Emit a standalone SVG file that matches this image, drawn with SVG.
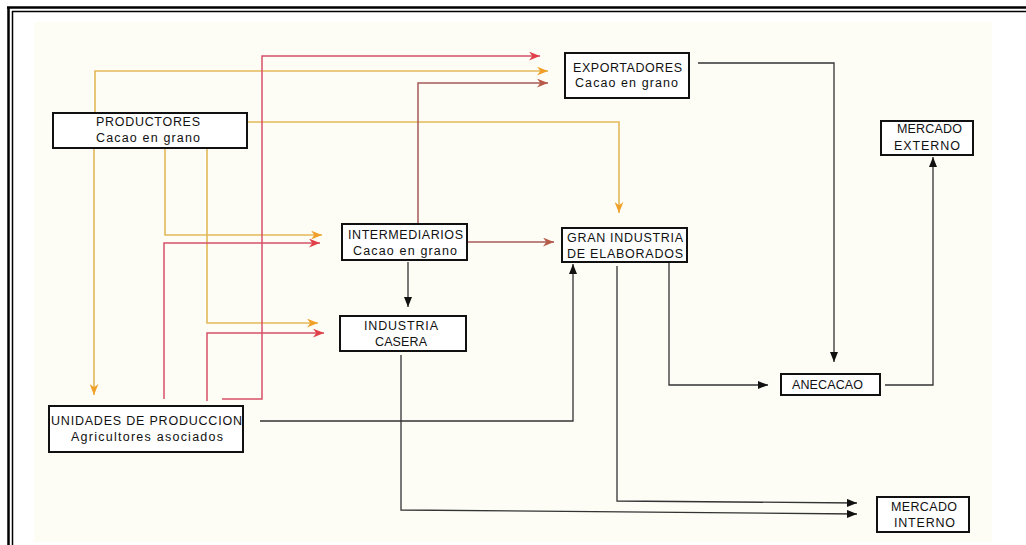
<svg xmlns="http://www.w3.org/2000/svg" width="1026" height="545" viewBox="0 0 1026 545">
<style>
.box{fill:#ffffff;stroke:#111;stroke-width:2}
.t{font-family:"Liberation Sans",Arial,sans-serif;font-size:12.5px;fill:#111}
.or{fill:none;stroke:#e3b85a;stroke-width:1.6}
.rd{fill:none;stroke:#d6506a;stroke-width:1.5}
.br{fill:none;stroke:#a65a5a;stroke-width:1.5}
.bk{fill:none;stroke:#333;stroke-width:1.3}
</style>
<defs>
<marker id="aO" viewBox="0 0 10 8" refX="10" refY="4" markerWidth="11" markerHeight="9" orient="auto" markerUnits="userSpaceOnUse"><path d="M0,0 L10,4 L0,8 L3,4 z" fill="#f0a028"/></marker>
<marker id="aR" viewBox="0 0 10 8" refX="10" refY="4" markerWidth="11" markerHeight="9" orient="auto" markerUnits="userSpaceOnUse"><path d="M0,0 L10,4 L0,8 L3,4 z" fill="#e04048"/></marker>
<marker id="aB" viewBox="0 0 10 8" refX="10" refY="4" markerWidth="11" markerHeight="9" orient="auto" markerUnits="userSpaceOnUse"><path d="M0,0 L10,4 L0,8 L3,4 z" fill="#b85a48"/></marker>
<marker id="aK" viewBox="0 0 10 8" refX="10" refY="4" markerWidth="10" markerHeight="8" orient="auto" markerUnits="userSpaceOnUse"><path d="M0,0 L10,4 L0,8 z" fill="#111"/></marker>
</defs>
<rect width="1026" height="545" fill="#ffffff"/>
<rect x="34" y="22" width="958" height="520" fill="#fdfdf6"/>
<g id="frame" stroke="#000" fill="none">
<line x1="7" y1="7.5" x2="1026" y2="7.5" stroke-width="2.5"/>
<line x1="8.5" y1="7" x2="8.5" y2="545" stroke-width="2.5"/>
<line x1="12" y1="11.5" x2="1026" y2="11.5" stroke-width="1.5"/>
<line x1="12.5" y1="11" x2="12.5" y2="545" stroke-width="1.5"/>
</g>
<g id="connectors">
<polyline class="or" points="95,113 95,71 548,71" marker-end="url(#aO)"/>
<polyline class="or" points="94,148 94,395" marker-end="url(#aO)"/>
<polyline class="or" points="165,148 165,235 322,235" marker-end="url(#aO)"/>
<polyline class="or" points="207,148 207,323 318,323" marker-end="url(#aO)"/>
<polyline class="or" points="247,122 619,122 619,213" marker-end="url(#aO)"/>
<polyline class="rd" points="222,399 262,399 262,56 540,56" marker-end="url(#aR)"/>
<polyline class="rd" points="164,399 164,243 320,243" marker-end="url(#aR)"/>
<polyline class="rd" points="207,401 207,333 324,333" marker-end="url(#aR)"/>
<polyline class="br" points="418,224 418,83 548,83" marker-end="url(#aB)"/>
<polyline class="br" points="467,242 554,242" marker-end="url(#aB)"/>
<polyline class="bk" points="408,262 408,307" marker-end="url(#aK)"/>
<polyline class="bk" points="260,421 573,421 573,264" marker-end="url(#aK)"/>
<polyline class="bk" points="401,355 401,510 857,514" marker-end="url(#aK)"/>
<polyline class="bk" points="617,266 617,501 857,503" marker-end="url(#aK)"/>
<polyline class="bk" points="669,262 669,385 768,385" marker-end="url(#aK)"/>
<polyline class="bk" points="698,63 834,63 834,362" marker-end="url(#aK)"/>
<polyline class="bk" points="885,385 933,385 933,157" marker-end="url(#aK)"/>
</g>
<g id="productores">
<rect class="box" x="53" y="113" width="194" height="35"/>
<text class="t" x="96" y="126" textLength="104" lengthAdjust="spacing">PRODUCTORES</text>
<text class="t" x="96" y="142" textLength="104" lengthAdjust="spacing">Cacao en grano</text>
</g>
<g id="exportadores">
<rect class="box" x="565" y="53" width="124" height="45"/>
<text class="t" x="573" y="72" textLength="109" lengthAdjust="spacing">EXPORTADORES</text>
<text class="t" x="575" y="87" textLength="103" lengthAdjust="spacing">Cacao en grano</text>
</g>
<g id="intermediarios">
<rect class="box" x="342" y="224" width="125" height="36"/>
<text class="t" x="348" y="239" textLength="115" lengthAdjust="spacing">INTERMEDIARIOS</text>
<text class="t" x="353" y="255" textLength="104" lengthAdjust="spacing">Cacao en grano</text>
</g>
<g id="gran_industria">
<rect class="box" x="562" y="228" width="125" height="34"/>
<text class="t" x="567" y="242" textLength="116" lengthAdjust="spacing">GRAN INDUSTRIA</text>
<text class="t" x="567" y="258" textLength="116" lengthAdjust="spacing">DE ELABORADOS</text>
</g>
<g id="mercado_externo">
<rect class="box" x="881" y="121" width="92" height="34"/>
<text class="t" x="897" y="133" textLength="65" lengthAdjust="spacing">MERCADO</text>
<text class="t" x="894" y="150" textLength="66" lengthAdjust="spacing">EXTERNO</text>
</g>
<g id="industria_casera">
<rect class="box" x="340" y="316" width="126" height="35"/>
<text class="t" x="364" y="330" textLength="74" lengthAdjust="spacing">INDUSTRIA</text>
<text class="t" x="375" y="346" textLength="52" lengthAdjust="spacing">CASERA</text>
</g>
<g id="anecacao">
<rect class="box" x="781" y="374" width="99" height="21"/>
<text class="t" x="792" y="389" textLength="71" lengthAdjust="spacing">ANECACAO</text>
</g>
<g id="mercado_interno">
<rect class="box" x="877" y="497" width="92" height="35"/>
<text class="t" x="891" y="511" textLength="66" lengthAdjust="spacing">MERCADO</text>
<text class="t" x="894" y="527" textLength="61" lengthAdjust="spacing">INTERNO</text>
</g>
<g id="unidades">
<rect class="box" x="49" y="406" width="194" height="46"/>
<text class="t" x="51" y="425" textLength="191" lengthAdjust="spacing">UNIDADES DE PRODUCCION</text>
<text class="t" x="71" y="441" textLength="152" lengthAdjust="spacing">Agricultores asociados</text>
</g>
</svg>
